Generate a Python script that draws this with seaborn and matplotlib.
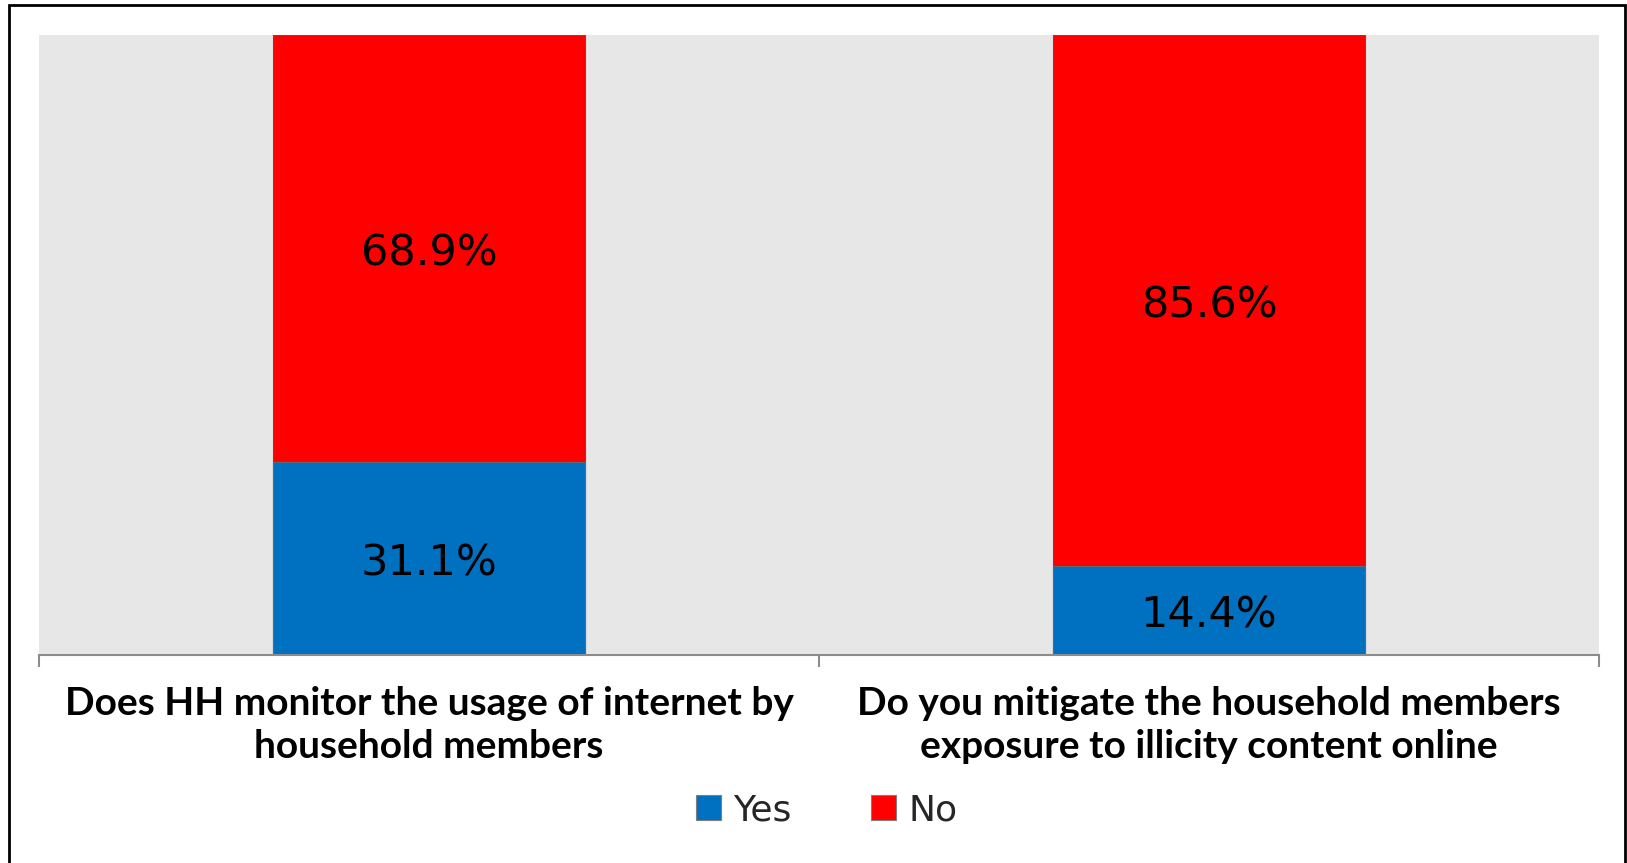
import matplotlib
matplotlib.use("Agg")
import matplotlib.pyplot as plt
import seaborn as sns
import pandas as pd
from matplotlib.patches import Patch, Rectangle
from matplotlib.ticker import FixedLocator

categories = ["Does HH monitor the usage of internet by\nhousehold members",
              "Do you mitigate the household members\nexposure to illicity content online"]
yes_vals = [31.1, 14.4]
no_vals = [68.9, 85.6]
series_names = ["Yes", "No"]
colors = {"Yes": "#0070C0", "No": "#FF0000"}

sns.set_theme(style="white")
plt.rcParams["font.family"] = ["DejaVu Sans"]

df = pd.DataFrame({"cat": categories, "Yes": yes_vals, "No": no_vals})
df["Total"] = df["Yes"] + df["No"]

W, H = 1627, 863
fig = plt.figure(figsize=(W / 100, H / 100), dpi=100)
ax = fig.add_axes([39 / W, 1 - 655 / H, (1599 - 39) / W, (655 - 35) / H])
ax.set_facecolor("#E7E7E7")

sns.barplot(data=df, x="cat", y="Total", color=colors["No"], width=0.4,
            edgecolor="#6b4a4a", linewidth=0.8, ax=ax, saturation=1)
sns.barplot(data=df, x="cat", y="Yes", color=colors["Yes"], width=0.4,
            edgecolor="#5a6a7a", linewidth=0.8, ax=ax, saturation=1)

ax.set_xlim(-0.5, 1.5)
ax.set_ylim(0, 100)
ax.set_xlabel("")
ax.set_ylabel("")
ax.set_yticks([])
for s in ["top", "right", "left"]:
    ax.spines[s].set_visible(False)
ax.spines["bottom"].set_color("#8c8c8c")
ax.spines["bottom"].set_linewidth(1.5)

ax.xaxis.set_minor_locator(FixedLocator([-0.5, 0.5, 1.5]))
ax.tick_params(axis="x", which="minor", length=8.5, width=1.5, color="#8c8c8c", bottom=True)
ax.tick_params(axis="x", which="major", length=0, pad=22)
ax.set_xticks(range(len(categories)))
ax.set_xticklabels(categories, fontsize=28, fontweight="bold", family="Lato",
                   linespacing=1.3, color="black")

for i in range(len(categories)):
    y, n = yes_vals[i], no_vals[i]
    ax.annotate(f"{y:.1f}%", (i, y / 2), xytext=(0, -3.5), textcoords="offset points",
                ha="center", va="center", fontsize=31, color="black")
    ax.annotate(f"{n:.1f}%", (i, y + n / 2), xytext=(0, -3.5), textcoords="offset points",
                ha="center", va="center", fontsize=31, color="black")

handles = [Patch(facecolor=colors[s], edgecolor="#7f7f7f", linewidth=0.8) for s in series_names]
leg = fig.legend(handles, series_names, loc="center", bbox_to_anchor=(827 / W, 1 - 810 / H),
                 ncol=2, frameon=False, handlelength=0.68, handleheight=0.68,
                 handletextpad=0.35, columnspacing=2.2, prop={"family": "DejaVu Sans", "size": 26})

fig.patches.append(Rectangle((9 / W, -0.01), (1625 - 9) / W, 1 - 5 / H + 0.01,
                             transform=fig.transFigure, fill=False, edgecolor="black",
                             linewidth=2))

fig.savefig("out.png", dpi=100)
